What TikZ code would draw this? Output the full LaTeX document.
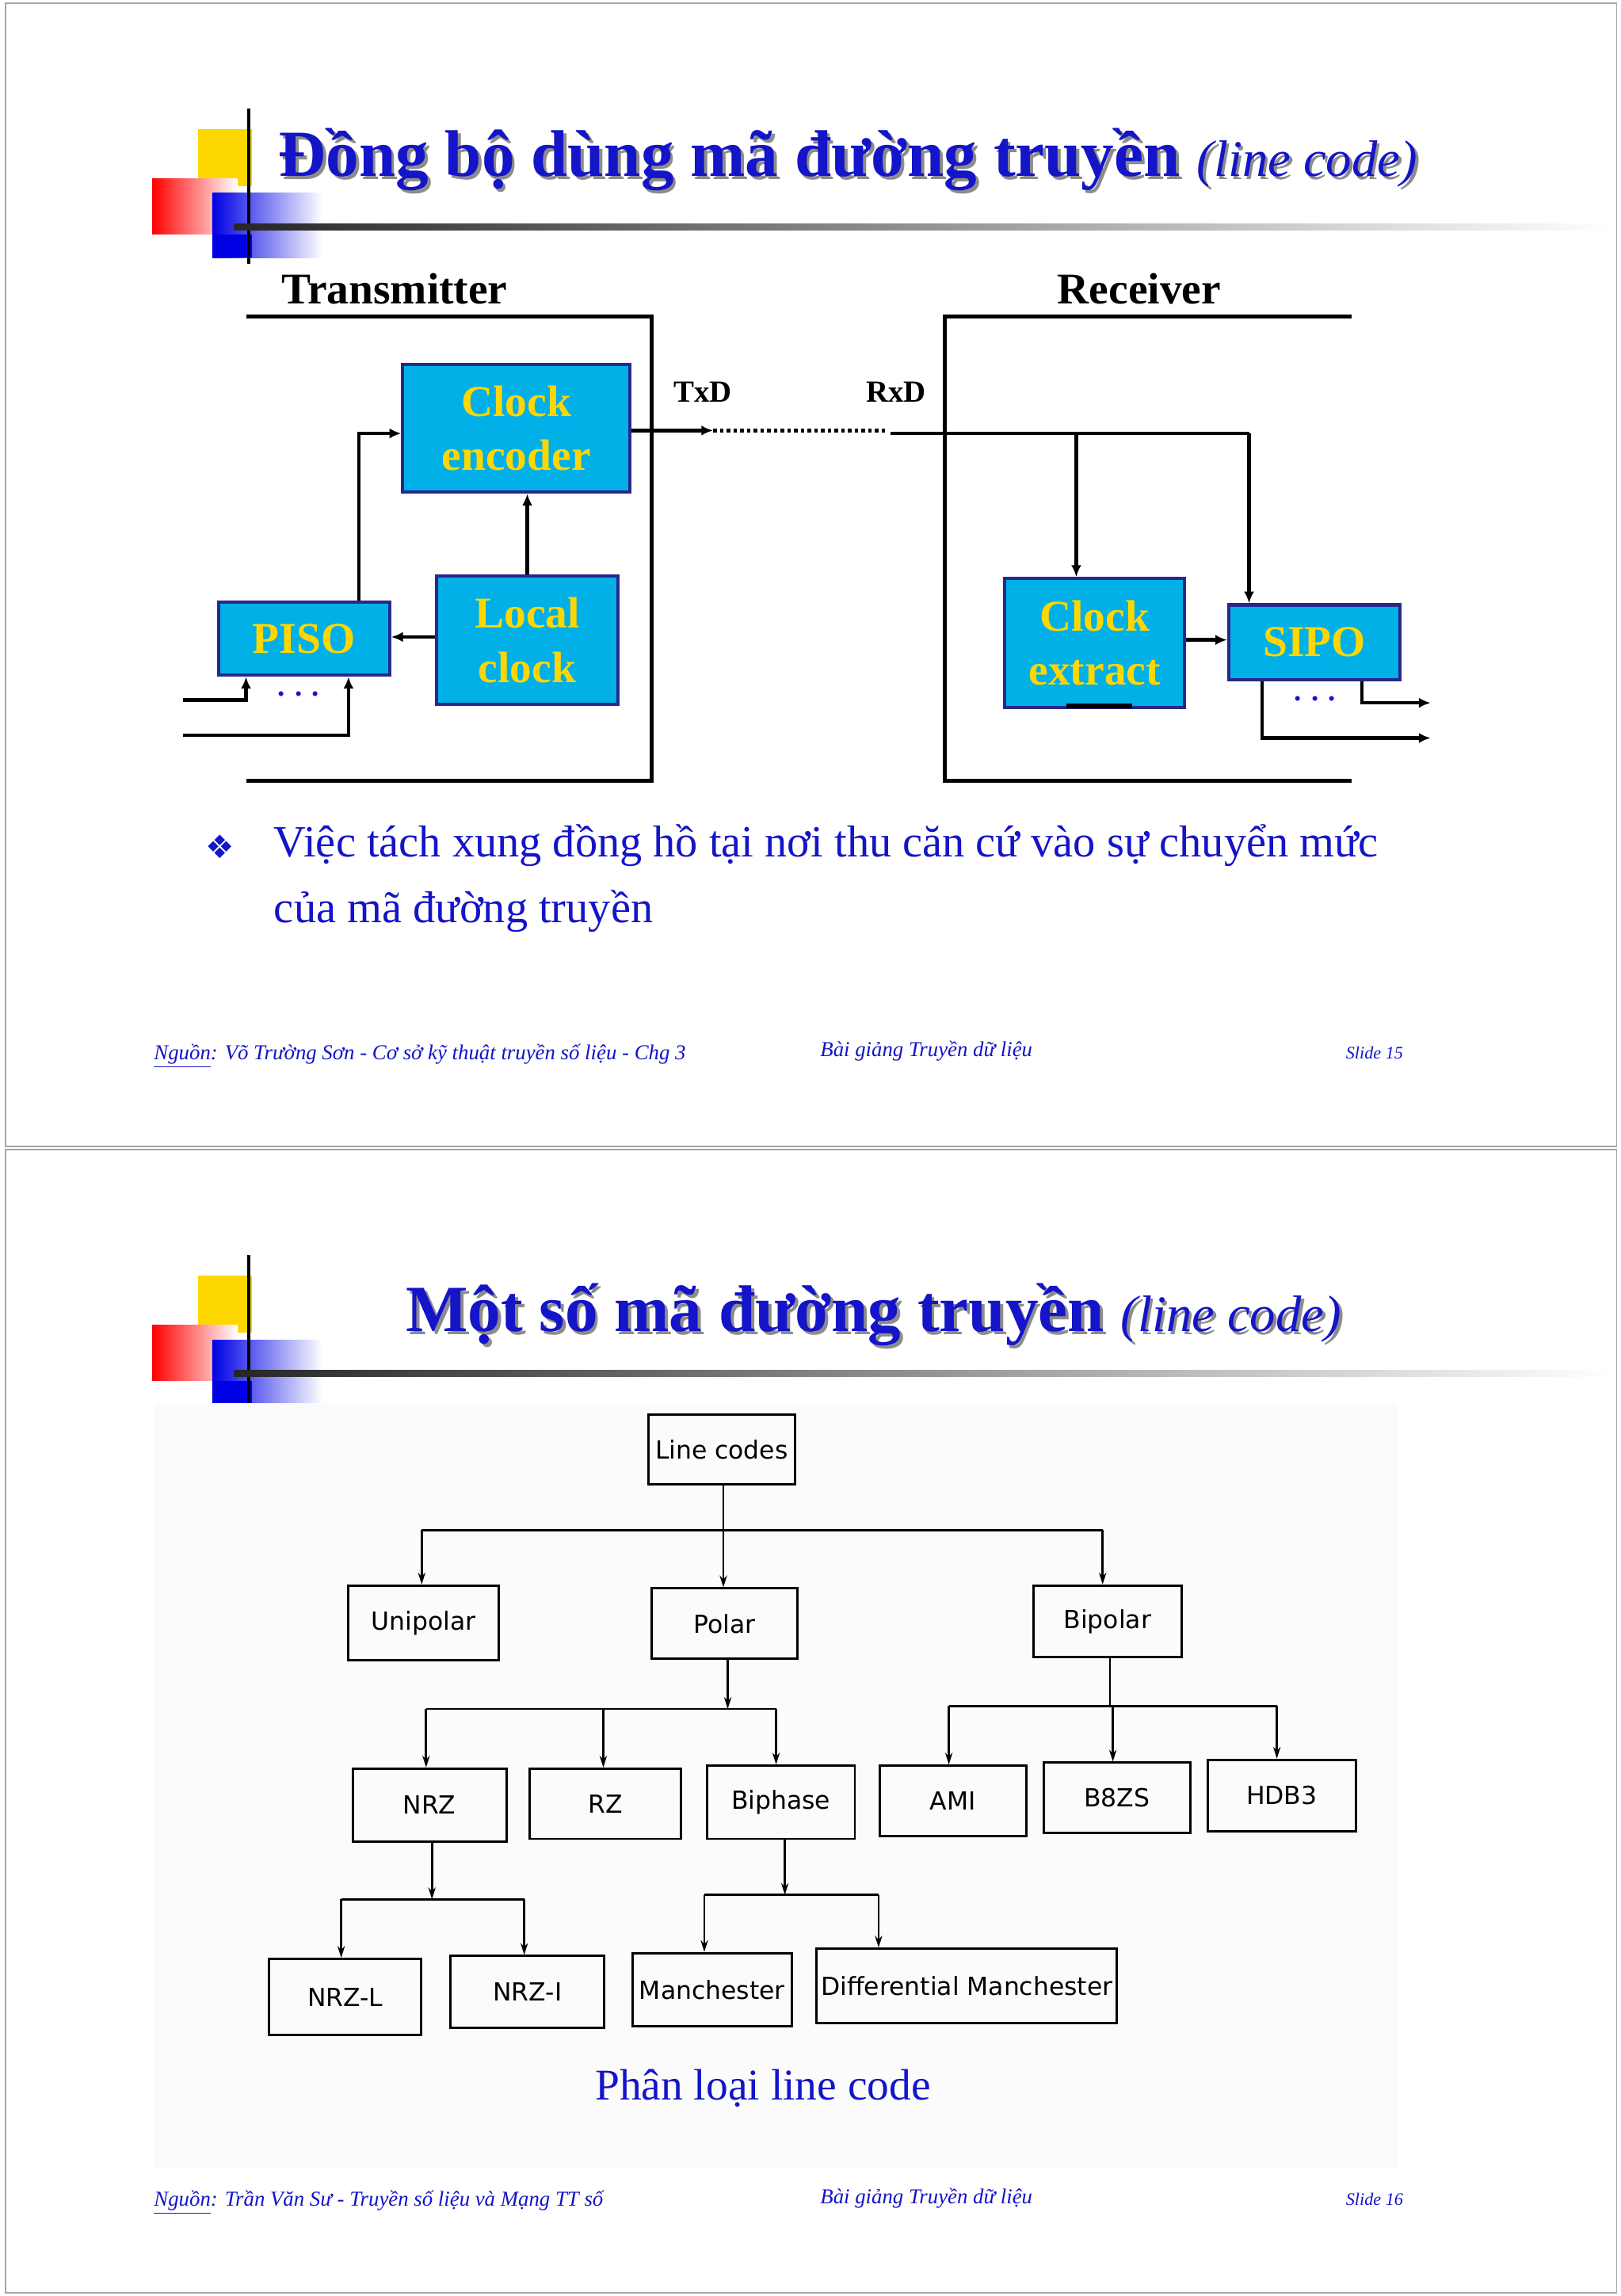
\documentclass[tikz,border=0pt]{standalone}
\usepackage{fontspec}
\setmainfont{Liberation Serif}
\newfontfamily\treefont{DejaVu Sans}
\usetikzlibrary{arrows.meta}
\definecolor{tblue}{RGB}{20,20,200}
\definecolor{boxcyan}{RGB}{0,176,230}
\definecolor{boxyel}{RGB}{255,215,0}
\definecolor{boxedge}{RGB}{40,40,140}
\tikzset{
 blk/.style={draw=boxedge,line width=2.2pt,fill=boxcyan,text=boxyel,font=\fontsize{30}{37}\selectfont\bfseries,align=center,inner sep=0pt,anchor=north west},
 wire/.style={line width=2.4pt,-{Latex[length=8pt,width=7pt]}},
 pline/.style={line width=2.8pt},
 tbox/.style={draw,line width=1.6pt,font=\treefont\fontsize{17}{19}\selectfont,inner sep=0pt,anchor=north west},
 tw/.style={line width=1.5pt},
 ta/.style={line width=1.5pt,-{Stealth[length=8pt,width=5pt]}},
 foot/.style={font=\fontsize{14.5}{16}\selectfont\itshape,text=tblue,anchor=west,inner sep=0pt},
}
\newcommand{\deco}[1]{%
 \fill[boxyel] (135,88+#1) rectangle (172,127+#1);
 \shade[left color=red,right color=white] (104,122+#1) rectangle (162,160+#1);
 \shade[left color=blue!90!black,right color=white] (145,132+#1) rectangle (220,176+#1);
 \fill[blue!90!black] (145,160+#1) rectangle (172,176+#1);
 \draw[line width=2.2pt] (170,74+#1) -- (170,180+#1);
 \shade[left color=black!85,right color=white] (160,153+#1) rectangle (1100,157+#1);
}
\newcommand{\ttlA}{\fontsize{45}{47}\selectfont\bfseries Đồng bộ dùng mã đường truyền \fontsize{35}{37}\selectfont\mdseries\itshape (line code)}
\newcommand{\ttlB}{\fontsize{45}{47}\selectfont\bfseries Một số mã đường truyền \fontsize{35}{37}\selectfont\mdseries\itshape (line code)}
\begin{document}
\begin{tikzpicture}[x=1pt,y=-1pt]
\useasboundingbox (0,0) rectangle (1107,1568);
\fill[white] (0,0) rectangle (1107,1568);
\draw[black!35,line width=1pt] (4,2) rectangle (1104,783);
\draw[black!35,line width=1pt] (4,785) rectangle (1104,1566);
% ---------- slide 1
\deco{0}
\node[anchor=west,inner sep=0pt,text=black!45] at (192,111) {\ttlA};
\node[anchor=west,inner sep=0pt,text=tblue] (t1) at (190,109) {\ttlA};
\node[anchor=west,inner sep=0pt,font=\fontsize{30}{32}\selectfont\bfseries] (tx) at (192,197) {Transmitter};
\node[anchor=west,inner sep=0pt,font=\fontsize{30}{32}\selectfont\bfseries] (rx) at (722,197) {Receiver};
\draw[pline] (168,216) -- (445,216) -- (445,533) -- (168,533);
\draw[pline] (923,216) -- (645,216) -- (645,533) -- (923,533);
\node[blk,minimum width=155pt,minimum height=87pt] (enc) at (274,248) {Clock\\encoder};
\node[blk,minimum width=124pt,minimum height=88pt] (lc) at (297,392) {Local\\clock};
\node[blk,minimum width=117pt,minimum height=50pt] (piso) at (148,410) {PISO};
\node[blk,minimum width=123pt,minimum height=88pt] (ce) at (685,394) {Clock\\extract};
\node[blk,minimum width=117pt,minimum height=51pt] (sipo) at (838,412) {SIPO};
\node[font=\fontsize{21}{22}\selectfont\bfseries] (txd) at (480,268) {TxD};
\node[font=\fontsize{21}{22}\selectfont\bfseries] (rxd) at (612,268) {RxD};
\draw[wire] (piso.north -| 245,0) -- (245,296) -- (enc.west |- 0,296);
\draw[wire] (lc.north) -- (enc.south -| lc.north);
\draw[wire] (lc.west |- 0,435) -- (piso.east |- 0,435);
\coordinate (d1) at (487,294);
\coordinate (d2) at (606,294);
\draw[wire] (enc.east |- 0,294) -- (d1);
\draw[line width=2.6pt,dotted] (d1) -- (d2);
\draw[line width=2.4pt] (608,296) -- (853,296);
\draw[wire] (853,296) -- (sipo.north -| 853,0);
\draw[wire] (735,296) -- (ce.north -| 735,0);
\draw[wire] (ce.east |- 0,437) -- (sipo.west |- 0,437);
\draw[line width=3pt] (728,482) -- (773,482);
\draw[wire] (125,478) -- (168,478) -- (piso.south -| 168,0);
\draw[wire] (125,502) -- (238,502) -- (piso.south -| 238,0);
\node[text=tblue,font=\fontsize{20}{20}\selectfont\bfseries] (dots1) at (204,474) {. . .};
\draw[wire] (sipo.south -| 862,0) -- (862,504) -- (977,504);
\draw[wire] (sipo.south -| 930,0) -- (930,480) -- (977,480);
\node[text=tblue,font=\fontsize{20}{20}\selectfont\bfseries] (dots2) at (898,477) {. . .};
\node[anchor=west,inner sep=0pt,text=tblue,font=\treefont\fontsize{22}{24}\selectfont] (bul) at (140,578) {❖};
\node[anchor=north west,inner sep=0pt,text=tblue,align=left,font=\fontsize{30.5}{45}\selectfont] (btxt) at (187,563) {Việc tách xung đồng hồ tại nơi thu căn cứ vào sự chuyển mức\\của mã đường truyền};
\node[foot] (f1) at (105,721) {\underline{Nguồn}: Võ Trường Sơn - Cơ sở kỹ thuật truyền số liệu - Chg 3};
\node[foot] (f2) at (560,718) {Bài giảng Truyền dữ liệu};
\node[foot,font=\fontsize{12}{13}\selectfont\itshape] (f3) at (919,719) {Slide 15};
% ---------- slide 2
\deco{783}
\node[anchor=west,inner sep=0pt,text=black!45] at (279,900) {\ttlB};
\node[anchor=west,inner sep=0pt,text=tblue] (t2) at (277,898) {\ttlB};
\fill[black!1.5] (105,958) rectangle (955,1480);
\node[tbox,minimum width=100pt,minimum height=48pt] (lcodes) at (442,965) {Line codes};
\node[tbox,minimum width=103pt,minimum height=51pt] (uni) at (237,1082) {Unipolar};
\node[tbox,minimum width=100pt,minimum height=48pt] (pol) at (444,1084) {Polar};
\node[tbox,minimum width=101pt,minimum height=49pt] (bip) at (705,1082) {Bipolar};
\node[tbox,minimum width=105pt,minimum height=50pt] (nrz) at (240,1207) {NRZ};
\node[tbox,minimum width=103pt,minimum height=48pt] (rz) at (361,1207) {RZ};
\node[tbox,minimum width=101pt,minimum height=50pt] (biph) at (482,1205) {Biphase};
\node[tbox,minimum width=100pt,minimum height=48pt] (ami) at (600,1205) {AMI};
\node[tbox,minimum width=100pt,minimum height=48pt] (b8zs) at (712,1203) {B8ZS};
\node[tbox,minimum width=101pt,minimum height=49pt] (hdb3) at (824,1201) {HDB3};
\node[tbox,minimum width=104pt,minimum height=52pt] (nrzl) at (183,1337) {NRZ-L};
\node[tbox,minimum width=105pt,minimum height=49pt] (nrzi) at (307,1335) {NRZ-I};
\node[tbox,minimum width=109pt,minimum height=50pt] (man) at (431,1333) {Manchester};
\node[tbox,minimum width=205pt,minimum height=51pt] (dman) at (557,1330) {Differential Manchester};
\draw[ta] (lcodes.south -| 494,0) -- (pol.north -| 494,0);
\draw[tw] (288,1045) -- (753,1045);
\draw[ta] (288,1045) -- (uni.north -| 288,0);
\draw[ta] (753,1045) -- (bip.north -| 753,0);
\draw[ta] (pol.south -| 497,0) -- (497,1167);
\draw[tw] (291,1167) -- (530,1167);
\draw[ta] (291,1167) -- (nrz.north -| 291,0);
\draw[ta] (412,1167) -- (rz.north -| 412,0);
\draw[ta] (530,1167) -- (biph.north -| 530,0);
\draw[tw] (bip.south -| 758,0) -- (758,1165);
\draw[tw] (648,1165) -- (872,1165);
\draw[ta] (648,1165) -- (ami.north -| 648,0);
\draw[ta] (760,1165) -- (b8zs.north -| 760,0);
\draw[ta] (872,1165) -- (hdb3.north -| 872,0);
\draw[ta] (nrz.south -| 295,0) -- (295,1297);
\draw[tw] (233,1297) -- (358,1297);
\draw[ta] (233,1297) -- (nrzl.north -| 233,0);
\draw[ta] (358,1297) -- (nrzi.north -| 358,0);
\draw[ta] (biph.south -| 536,0) -- (536,1294);
\draw[tw] (481,1294) -- (600,1294);
\draw[ta] (481,1294) -- (man.north -| 481,0);
\draw[ta] (600,1294) -- (dman.north -| 600,0);
\node[text=tblue,font=\fontsize{30}{32}\selectfont] (cap) at (521,1426) {Phân loại line code};
\node[foot] (g1) at (105,1504) {\underline{Nguồn}: Trần Văn Sư - Truyền số liệu và Mạng TT số};
\node[foot] (g2) at (560,1501) {Bài giảng Truyền dữ liệu};
\node[foot,font=\fontsize{12}{13}\selectfont\itshape] (g3) at (919,1502) {Slide 16};
\end{tikzpicture}
\end{document}
